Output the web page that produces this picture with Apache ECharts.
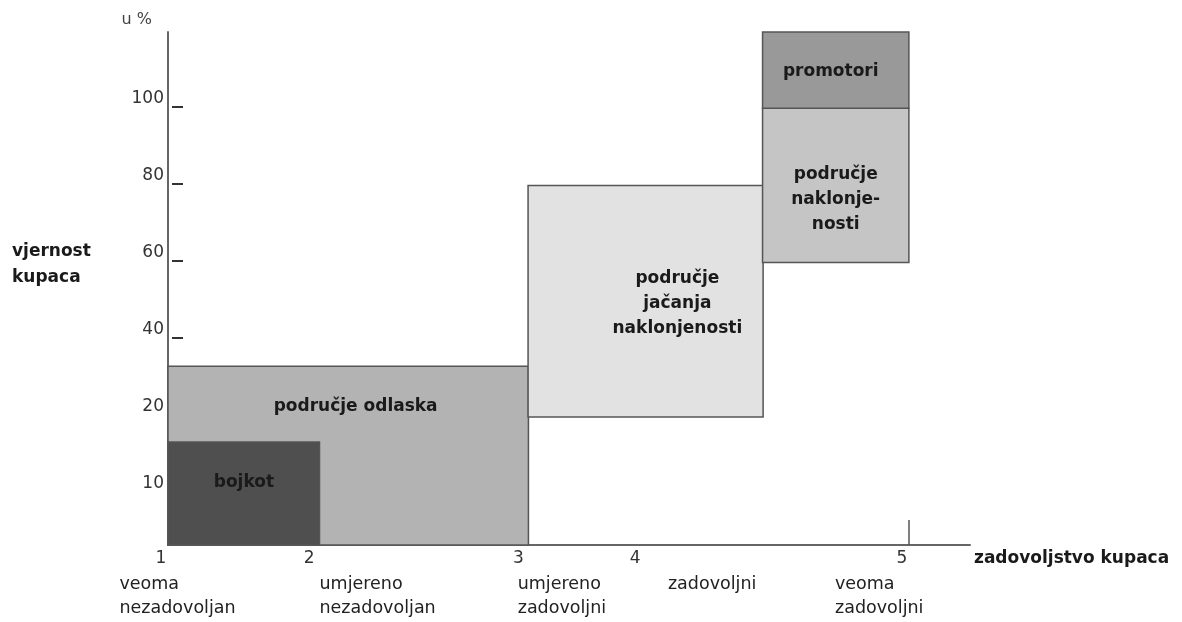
<!DOCTYPE html>
<html><head><meta charset="utf-8">
<script src="https://cdn.jsdelivr.net/npm/echarts@6/dist/echarts.min.js"></script>
<style>html,body{margin:0;padding:0;background:#fff}#c{width:1182px;height:622px}</style>
</head><body><div id="c"></div>
<script>
// Regions (zones) of the diagram
const boxNames = ['područje odlaska', 'bojkot', 'područje\njačanja\nnaklonjenosti', 'područje\nnaklonje-\nnosti', 'promotori'];
const boxX0 = [1, 1, 2.944, 4.21, 4.21];
const boxX1 = [2.946, 1.818, 4.213, 5, 5];
const boxY0 = [-13.7, -13.7, 19.5, 59.6, 99.6];
const boxY1 = [32.7, 13, 79.6, 99.6, 119.4];
// where each zone's caption is anchored (data units)
const labelX = [2.013, 1.41, 3.75, 4.605, 4.578];
const labelY = [22.1, 2.4, 49.0, 75.8, 109.1];

// x axis: satisfaction levels
const xLevelPos = [1, 1.8, 2.93, 3.56, 5];
const xLevelLabels = ['1', '2', '3', '4', '5'];
const xDescPos = [0.738, 1.818, 2.888, 3.699, 4.601];
const xDescLabels = ['veoma\nnezadovoljan', 'umjereno\nnezadovoljan', 'umjereno\nzadovoljni', 'zadovoljni', 'veoma\nzadovoljni'];
const xTickPos = [5];

// y axis: loyalty in %
const yTickPos = [6.6, 20, 40, 60, 80, 100];
const yLabelPos = [0, 20, 40, 60, 80, 100];
const yLabels = ['10', '20', '40', '60', '80', '100'];

const X_MIN = 1, X_MAX = 5.33, Y_MIN = -13.7, Y_MAX = 119.4;

const boxColors = ['#b3b3b3', '#4f4f4f', '#e2e2e2', '#c5c5c5', '#999999'];
const FONT = '"DejaVu Sans", Arial, sans-serif';

const chart = echarts.init(document.getElementById('c'), null, {renderer: 'canvas'});

const boxData = boxNames.map((n, i) => [boxX0[i], boxX1[i], boxY0[i], boxY1[i], labelX[i], labelY[i]]);
const descData = xDescLabels.map((t, i) => [xDescPos[i], Y_MIN]);

chart.setOption({
  animation: false,
  backgroundColor: '#ffffff',
  grid: {left: 168, right: 212, top: 32, bottom: 77, containLabel: false},
  xAxis: {
    type: 'value', min: X_MIN, max: X_MAX,
    name: 'zadovoljstvo kupaca', nameLocation: 'end', nameGap: 4,
    nameTextStyle: {fontFamily: FONT, fontWeight: 'bold', fontSize: 17, color: '#1a1a1a', verticalAlign: 'top', padding: [5, 0, 0, 0]},
    axisLine: {show: true, onZero: false, lineStyle: {color: '#666', width: 2}},
    axisTick: {show: true, inside: true, length: 25, customValues: xTickPos, lineStyle: {color: '#555', width: 1.5}},
    axisLabel: {
      show: true, customValues: xLevelPos, margin: 5, padding: [0, 14, 0, 0],
      fontFamily: FONT, fontSize: 17, color: '#333',
      formatter: v => xLevelLabels[xLevelPos.indexOf(v)]
    },
    splitLine: {show: false}
  },
  yAxis: [{
    type: 'value', min: Y_MIN, max: Y_MAX,
    name: 'u %', nameLocation: 'end', nameGap: 4,
    nameTextStyle: {fontFamily: FONT, fontSize: 16, color: '#444', align: 'right', padding: [0, 16, 0, 0]},
    axisLine: {show: true, onZero: false, lineStyle: {color: '#666', width: 2}},
    axisTick: {show: false},
    axisLabel: {
      show: true, customValues: yLabelPos, margin: 4, verticalAlign: 'bottom',
      fontFamily: FONT, fontSize: 17, color: '#333',
      formatter: v => yLabels[yLabelPos.indexOf(v)]
    },
    splitLine: {show: false}
  }, {
    type: 'value', min: Y_MIN, max: Y_MAX, position: 'left', offset: -4,
    axisLine: {show: false},
    axisTick: {show: true, inside: true, length: 11, customValues: yTickPos, lineStyle: {color: '#333', width: 2}},
    axisLabel: {show: false},
    splitLine: {show: false}
  }],
  graphic: [{
    type: 'text', left: 12, top: 239,
    style: {text: 'vjernost\nkupaca', font: 'bold 17px ' + FONT, lineHeight: 26, fill: '#1a1a1a'}
  }],
  series: [{
    type: 'custom', clip: false, z: 2,
    data: boxData,
    renderItem: (params, api) => {
      const i = params.dataIndex;
      const tl = api.coord([api.value(0), api.value(3)]);
      const br = api.coord([api.value(1), api.value(2)]);
      const lp = api.coord([api.value(4), api.value(5)]);
      return {
        type: 'group',
        children: [{
          type: 'rect',
          shape: {x: tl[0], y: tl[1], width: br[0] - tl[0], height: br[1] - tl[1]},
          style: {fill: boxColors[i], stroke: '#555', lineWidth: 1.5}
        }, {
          type: 'text', x: lp[0], y: lp[1],
          style: {text: boxNames[i], align: 'center', verticalAlign: 'middle', lineHeight: 25,
                  font: 'bold 17px ' + FONT, fill: '#1a1a1a'}
        }]
      };
    }
  }, {
    type: 'custom', clip: false, z: 3,
    data: descData,
    renderItem: (params, api) => {
      const i = params.dataIndex;
      const p = api.coord([api.value(0), api.value(1)]);
      return {
        type: 'text', x: p[0], y: p[1] + 27,
        style: {text: xDescLabels[i], align: 'left', verticalAlign: 'top', lineHeight: 24,
                font: '17.5px ' + FONT, fill: '#222'}
      };
    }
  }]
});
</script>
</body></html>
